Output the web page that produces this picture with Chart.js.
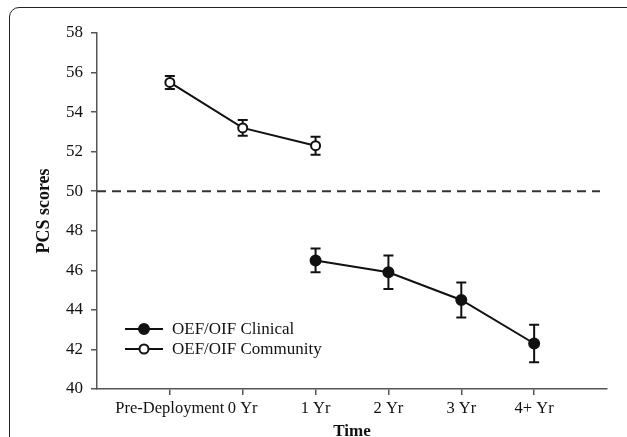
<!DOCTYPE html>
<html>
<head>
<meta charset="utf-8">
<script src="https://cdn.jsdelivr.net/npm/chart.js@4/dist/chart.umd.min.js"></script>
<style>
  html, body { margin: 0; padding: 0; background: #fff; overflow: hidden; }
  #wrap { position: relative; width: 627px; height: 437px; }
  #frame {
    position: absolute; left: 9px; top: 7px; width: 640px; height: 470px;
    border: 1.5px solid #222; border-radius: 10px; box-sizing: border-box;
  }
  #myChart { position: absolute; left: 0; top: 0; }
</style>
</head>
<body>
<div id="wrap">
  <div id="frame"></div>
  <canvas id="myChart" width="627" height="437"></canvas>
</div>
<script>
// time points (positions 1..6 on the x axis)
const timeLabels = ["Pre-Deployment", "0 Yr", "1 Yr", "2 Yr", "3 Yr", "4+ Yr"];

const clinicalMean = [null, null, 46.5, 45.9, 44.5, 42.3];
const clinicalErr = [null, null, 0.6, 0.85, 0.88, 0.95];

const communityMean = [55.5, 53.2, 52.3, null, null, null];
const communityErr = [0.33, 0.4, 0.45, null, null, null];

const normLine = 50;
const yTicks = [40, 42, 44, 46, 48, 50, 52, 54, 56, 58];

const serif = "'Liberation Serif', 'DejaVu Serif', serif";
const ink = "#111";

function toPoints(values, errs) {
  return values
    .map(function (v, i) {
      return v === null ? null : { x: i + 1, y: v, err: errs[i] };
    })
    .filter(function (p) { return p !== null; });
}

// error bars + dashed norm line + legend drawn inside plot
const extras = {
  id: "extras",
  beforeDatasetsDraw(chart) {
    const ctx = chart.ctx;
    const area = chart.chartArea;
    const y = chart.scales.y.getPixelForValue(normLine);
    ctx.save();
    ctx.strokeStyle = "#333";
    ctx.lineWidth = 2;
    ctx.setLineDash([9, 6]);
    ctx.beginPath();
    ctx.moveTo(area.left, y);
    ctx.lineTo(area.right - 7, y);
    ctx.stroke();
    ctx.restore();

    const xs = chart.scales.x;
    const ys = chart.scales.y;
    ctx.save();
    ctx.strokeStyle = ink;
    ctx.lineWidth = 2;
    chart.data.datasets.forEach(function (ds) {
      ds.data.forEach(function (p) {
        const px = xs.getPixelForValue(p.x);
        const top = ys.getPixelForValue(p.y + p.err);
        const bot = ys.getPixelForValue(p.y - p.err);
        ctx.beginPath();
        ctx.moveTo(px, top);
        ctx.lineTo(px, bot);
        ctx.moveTo(px - 5, top);
        ctx.lineTo(px + 5, top);
        ctx.moveTo(px - 5, bot);
        ctx.lineTo(px + 5, bot);
        ctx.stroke();
      });
    });
    ctx.restore();
  },
  afterDatasetsDraw(chart) {
    const ctx = chart.ctx;
    const area = chart.chartArea;
    const x0 = area.left + 28;
    chart.data.datasets.forEach(function (ds, i) {
      const y = area.bottom - 60 + i * 20;
      ctx.save();
      ctx.strokeStyle = ink;
      ctx.lineWidth = 2;
      ctx.beginPath();
      ctx.moveTo(x0, y);
      ctx.lineTo(x0 + 38, y);
      ctx.stroke();
      ctx.beginPath();
      ctx.arc(x0 + 19, y, ds.pointRadius, 0, Math.PI * 2);
      ctx.fillStyle = ds.pointBackgroundColor;
      ctx.fill();
      ctx.stroke();
      ctx.fillStyle = ink;
      ctx.font = "17px " + serif;
      ctx.textBaseline = "middle";
      ctx.fillText(ds.label, x0 + 47, y + 1);
      ctx.restore();
    });
  },
};

const ctx = document.getElementById("myChart").getContext("2d");
const myChart = new Chart(ctx, {
  type: "line",
  data: {
    datasets: [
      {
        label: "OEF/OIF Clinical",
        data: toPoints(clinicalMean, clinicalErr),
        borderColor: ink,
        borderWidth: 2,
        pointRadius: 5,
        pointBackgroundColor: ink,
        pointBorderColor: ink,
        pointBorderWidth: 2,
        tension: 0,
      },
      {
        label: "OEF/OIF Community",
        data: toPoints(communityMean, communityErr),
        borderColor: ink,
        borderWidth: 2,
        pointRadius: 4.5,
        pointBackgroundColor: "#fff",
        pointBorderColor: ink,
        pointBorderWidth: 2,
        tension: 0,
      },
    ],
  },
  options: {
    responsive: false,
    animation: false,
    layout: { padding: { top: 33, right: 20, left: 0, bottom: 0 } },
    plugins: { legend: { display: false }, tooltip: { enabled: false } },
    scales: {
      x: {
        type: "linear",
        min: 0,
        max: timeLabels.length + 1,
        afterBuildTicks: function (scale) {
          scale.ticks = timeLabels.map(function (_, i) { return { value: i + 1 }; });
        },
        afterFit: function (scale) { scale.height = 48; },
        ticks: {
          autoSkip: false,
          maxRotation: 0,
          padding: 4,
          color: ink,
          font: { family: serif, size: 16.5 },
          callback: function (v) { return timeLabels[v - 1]; },
        },
        grid: { drawOnChartArea: false, drawTicks: true, tickLength: 6, color: "#555", lineWidth: 1.5 },
        border: { display: true, color: "#555", width: 1.5 },
        title: {
          display: true,
          text: "Time",
          color: ink,
          font: { family: serif, size: 17, weight: "bold" },
          padding: { top: 0, bottom: -5 },
        },
      },
      y: {
        min: yTicks[0],
        max: yTicks[yTicks.length - 1],
        afterBuildTicks: function (scale) {
          scale.ticks = yTicks.map(function (v) { return { value: v }; });
        },
        afterFit: function (scale) { scale.width = 97; },
        ticks: {
          padding: 8,
          color: ink,
          font: { family: serif, size: 17 },
        },
        grid: { drawOnChartArea: false, drawTicks: true, tickLength: 6, color: "#555", lineWidth: 1.5 },
        border: { display: true, color: "#555", width: 1.5 },
        title: {
          display: true,
          text: "PCS scores",
          color: ink,
          font: { family: serif, size: 18, weight: "bold" },
          padding: { top: 34, bottom: 0 },
        },
      },
    },
  },
  plugins: [extras],
});
</script>
</body>
</html>
